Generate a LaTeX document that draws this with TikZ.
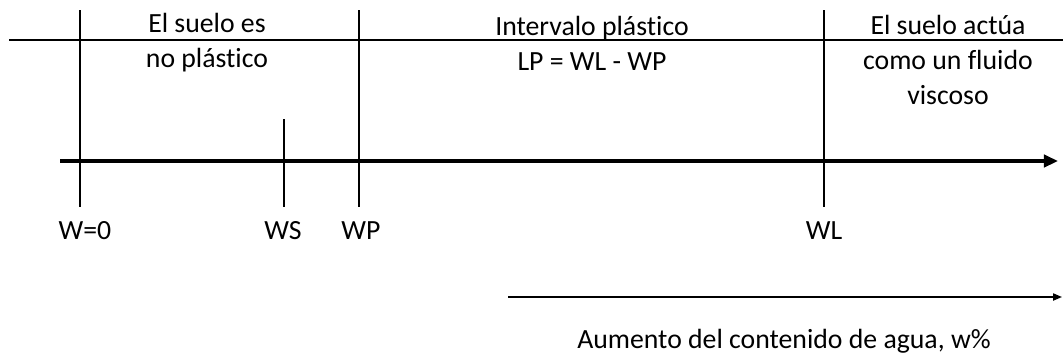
\documentclass[tikz,border=0pt]{standalone}
\usepackage{fontspec}
\setmainfont{Carlito}[Ligatures=NoCommon]
\usetikzlibrary{positioning, arrows.meta}
\tikzstyle{limitLine}=[line width=1.3pt]
\tikzstyle{axisArrow}=[-{Triangle[length=8pt,width=7pt]}, line width=2pt]
\tikzstyle{flowArrow}=[-{Triangle[length=5pt,width=4pt]}, line width=0.9pt]
\tikzstyle{limitLabel}=[font=\fontsize{15.8}{20}\selectfont, inner sep=0pt]
\tikzstyle{zoneText}=[limitLabel, align=center]

\begin{document}
\begin{tikzpicture}[x=0.02cm, y=-0.02cm]
    \useasboundingbox (0,0) rectangle (1063,360);

    % top line and axis
    \coordinate (topL) at (9,40);
    \coordinate (topR) at (1063,40);
    \coordinate (axisL) at (60,161);
    \coordinate (axisR) at (1058,161);
    \draw[limitLine] (topL) -- (topR);
    \draw[axisArrow] (axisL) -- (axisR);

    % limits
    \coordinate (w0Top) at (80,10);    \coordinate (w0Bot) at (80,207);
    \coordinate (wsTop) at (284,119);  \coordinate (wsBot) at (284,207);
    \coordinate (wpTop) at (359,10);   \coordinate (wpBot) at (359,207);
    \coordinate (wlTop) at (824,10);   \coordinate (wlBot) at (824,207);
    \draw[limitLine] (w0Top) -- (w0Bot);
    \draw[limitLine] (wsTop) -- (wsBot);
    \draw[limitLine] (wpTop) -- (wpBot);
    \draw[limitLine] (wlTop) -- (wlBot);

    \node[limitLabel] (w0) at (85,231) {W=0};
    \node[limitLabel] (ws) at (283,231) {WS};
    \node[limitLabel] (wp) at (361,231) {WP};
    \node[limitLabel] (wl) at (824,231) {WL};

    % zones
    \node[zoneText] (noPlast) at (207,43) {El suelo es\\no plástico};
    \node[zoneText] (plast) at (592,43) {Intervalo plástico\\LP = WL - WP};
    \node[zoneText] (fluid) at (948,60) {El suelo actúa\\como un fluido\\viscoso};

    % water content
    \coordinate (waterL) at (508,297);
    \coordinate (waterR) at (1062,297);
    \draw[flowArrow] (waterL) -- (waterR);
    \node[limitLabel] (water) at (784,341) {Aumento del contenido de agua, w\%};

  \end{tikzpicture}
\end{document}
